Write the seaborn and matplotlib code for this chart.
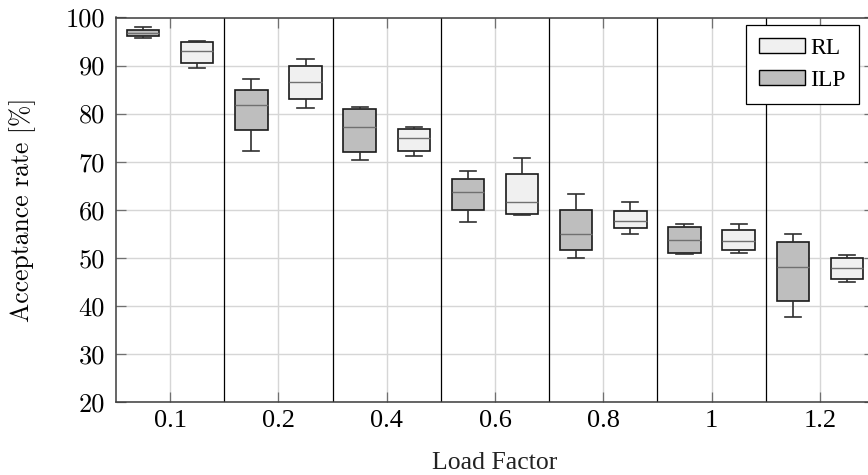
import numpy as np
import pandas as pd
import matplotlib
matplotlib.use("Agg")
import matplotlib.pyplot as plt
from matplotlib.patches import Patch
import seaborn as sns

load_factors = ["0.1", "0.2", "0.4", "0.6", "0.8", "1", "1.2"]
methods = ["ILP", "RL"]

# Five-number summaries per load factor: lower whisker, Q1, median, Q3, upper whisker
ilp_low    = [95.8, 72.2, 70.3, 57.4, 49.9, 50.7, 37.6]
ilp_q1     = [96.1, 76.6, 72.1, 60.0, 51.6, 51.0, 41.0]
ilp_median = [96.8, 81.8, 77.2, 63.7, 54.9, 53.7, 48.0]
ilp_q3     = [97.5, 84.9, 80.9, 66.4, 59.9, 56.5, 53.2]
ilp_high   = [98.0, 87.2, 81.3, 68.0, 63.3, 57.1, 55.0]

rl_low    = [89.4, 81.2, 71.1, 59.0, 54.9, 50.9, 45.0]
rl_q1     = [90.6, 83.0, 72.2, 59.2, 56.1, 51.6, 45.6]
rl_median = [93.1, 86.6, 75.0, 61.7, 57.7, 53.4, 47.9]
rl_q3     = [94.8, 89.9, 76.9, 67.4, 59.8, 55.8, 49.9]
rl_high   = [95.2, 91.4, 77.2, 70.8, 61.6, 57.0, 50.5]

palette = {"ILP": "#bebebe", "RL": "#f0f0f0"}

summaries = {
    "ILP": (ilp_low, ilp_q1, ilp_median, ilp_q3, ilp_high),
    "RL": (rl_low, rl_q1, rl_median, rl_q3, rl_high),
}

# Long-form table: the five summary values of every box as observations
rows = []
for method, cols in summaries.items():
    for i, lf in enumerate(load_factors):
        for col in cols:
            rows.append({"load": lf, "method": method, "value": col[i]})
df = pd.DataFrame(rows)

plt.rcParams["axes.unicode_minus"] = False
serif = ["Liberation Serif", "DejaVu Serif"]

W, H = 868, 475
fig = plt.figure(figsize=(W / 100, H / 100), dpi=100)
left, right, top, bottom = 116, 874, 17.5, 402
ax = fig.add_axes([left / W, 1 - bottom / H, (right - left) / W, (bottom - top) / H])

sns.boxplot(
    data=df, x="load", y="value", hue="method",
    order=load_factors, hue_order=methods, palette=palette,
    saturation=1, width=1.0, gap=0.4, whis=(0, 100),
    linecolor="#1a1a1a", linewidth=1.2, legend=False, ax=ax,
    medianprops={"color": "#707070", "linewidth": 1.0},
    whiskerprops={"color": "#303030"},
    capprops={"color": "#303030"},
)

ax.set_xlim(-0.5, len(load_factors) - 0.5)
ax.set_ylim(20, 100)
ax.set_yticks(np.arange(20, 101, 10))
ax.set_xticks(np.arange(len(load_factors)))
ax.set_xticklabels(load_factors)

ax.set_axisbelow(True)
ax.grid(True, color="#d6d6d6", linewidth=1.0)
for b in np.arange(0.5, len(load_factors) - 0.5, 1.0):
    ax.axvline(b, color="black", linewidth=0.9, zorder=0.8)

for side in ["left", "right", "top", "bottom"]:
    ax.spines[side].set_color("#3c3c3c")
    ax.spines[side].set_linewidth(1.1)

ax.tick_params(axis="both", direction="in", length=7, width=0.9,
               color="#707070", top=True, right=True)
ax.tick_params(axis="x", pad=6, labelsize=19, labelfontfamily=serif)
ax.tick_params(axis="y", pad=8, labelsize=19, labelfontfamily="cmr10")

ax.set_xlabel("Load Factor", fontsize=18.5, family=serif, labelpad=14, color="#222222")
ax.set_ylabel("Acceptance rate [%]", fontsize=18.5, family="cmr10")
ax.yaxis.set_label_coords((36 - left) / (right - left), 0.5)

handles = [
    Patch(facecolor=palette["RL"], edgecolor="black", linewidth=1.0, label="RL"),
    Patch(facecolor=palette["ILP"], edgecolor="black", linewidth=1.0, label="ILP"),
]
leg = ax.legend(
    handles=handles, loc="upper right",
    bbox_to_anchor=(859 / W, 1 - 25 / H), bbox_transform=fig.transFigure,
    borderaxespad=0, frameon=True, fancybox=False, framealpha=1,
    edgecolor="black", prop={"family": serif, "size": 17},
    handlelength=1.95, handleheight=0.6, handletextpad=0.25,
    labelspacing=0.45, borderpad=0.55,
)
leg.get_frame().set_linewidth(0.9)

fig.savefig("out.png", dpi=100)
